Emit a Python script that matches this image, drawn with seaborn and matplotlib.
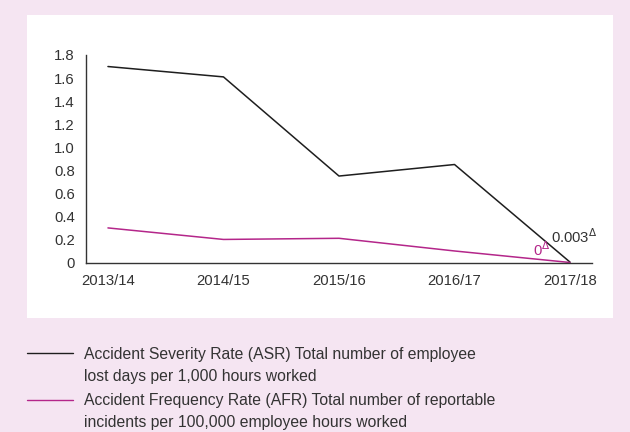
import matplotlib
matplotlib.use("Agg")
import matplotlib.pyplot as plt
from matplotlib.lines import Line2D
from matplotlib.patches import Rectangle
import seaborn as sns
import pandas as pd

years = ["2013/14", "2014/15", "2015/16", "2016/17", "2017/18"]
asr = [1.70, 1.61, 0.75, 0.85, 0.003]
afr = [0.30, 0.20, 0.21, 0.10, 0.0]
series_names = ["ASR", "AFR"]
legend_labels = [
    ["Accident Severity Rate (ASR) Total number of employee", "lost days per 1,000 hours worked"],
    ["Accident Frequency Rate (AFR) Total number of reportable", "incidents per 100,000 employee hours worked"],
]
end_labels = ["0.003", "0"]
yticks = [0, 0.2, 0.4, 0.6, 0.8, 1.0, 1.2, 1.4, 1.6, 1.8]
ytick_labels = ["0", "0.2", "0.4", "0.6", "0.8", "1.0", "1.2", "1.4", "1.6", "1.8"]

BG = "#f5e5f2"
DARK = "#1e1e1e"
PINK = "#b4268a"
TXT = "#333333"

sns.set_style("white")
plt.rcParams["font.family"] = ["Liberation Sans", "DejaVu Sans"]

df = pd.DataFrame({
    "year": years * 2,
    "value": asr + afr,
    "series": [series_names[0]] * len(years) + [series_names[1]] * len(years),
})

fig = plt.figure(figsize=(6.3, 4.32), dpi=100)
fig.patch.set_facecolor(BG)
# white panel
fig.add_artist(Rectangle((27 / 630, 1 - 318 / 432), (613 - 27) / 630, (318 - 15) / 432,
                         transform=fig.transFigure, facecolor="white", edgecolor="none", zorder=0))

ax = fig.add_axes([86 / 630, 1 - 262.5 / 432, (592 - 86) / 630, (262.5 - 55) / 432])
ax.set_facecolor("none")
sns.lineplot(data=df, x="year", y="value", hue="series", palette=[DARK, PINK],
             linewidth=1.1, legend=False, sort=False, ax=ax)
ax.set_xlim(-0.19, 4.19)
ax.set_ylim(0, 1.8)
ax.set_yticks(yticks)
ax.set_yticklabels(ytick_labels)
ax.set_xlabel("")
ax.set_ylabel("")
ax.tick_params(length=0, labelsize=10.7, colors=TXT)
ax.tick_params(axis="y", pad=8)
ax.tick_params(axis="x", pad=8)
for s in ["top", "right"]:
    ax.spines[s].set_visible(False)
for s in ["left", "bottom"]:
    ax.spines[s].set_color("#333333")
    ax.spines[s].set_linewidth(1.0)

ax.text(3.835, 0.225, end_labels[0] + r"$^{\Delta}$", color=TXT, fontsize=10.7, va="center", ha="left")
ax.text(3.68, 0.11, end_labels[1] + r"$^{\Delta}$", color=PINK, fontsize=10.7, va="center", ha="left")

# manual legend
for i, (lines, col) in enumerate(zip(legend_labels, [DARK, PINK])):
    y0 = 353 + i * 46.5
    y = 1 - y0 / 432
    fig.add_artist(Line2D([27 / 630, 73 / 630], [y, y], transform=fig.transFigure,
                          color=col, linewidth=1.0))
    for j, line in enumerate(lines):
        fig.text(84 / 630, 1 - (y0 + 1 + j * 22.5) / 432, line, color=TXT, fontsize=11.3,
                 va="center", ha="left", transform=fig.transFigure)

fig.savefig("out.png", dpi=100, facecolor=BG)
